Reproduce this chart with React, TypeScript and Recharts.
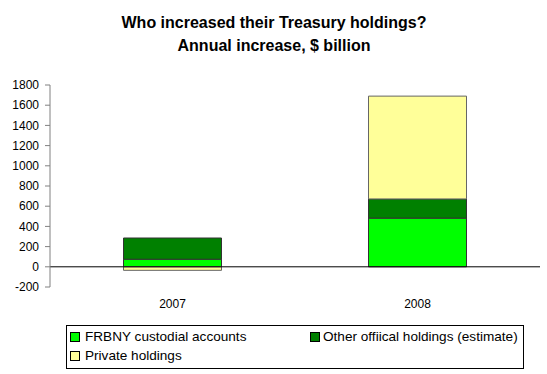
import React from "react";
import { BarChart, Bar, XAxis, YAxis, ReferenceLine } from "recharts";

const categories = ["2007", "2008"];
const frbny = [75, 482];
const otherOfficial = [210, 190];
const privateHoldings = [-35, 1018];
const yTicks = [-200, 0, 200, 400, 600, 800, 1000, 1200, 1400, 1600, 1800];

const data = categories.map((c, i) => ({
  year: c,
  frbny: frbny[i],
  other: otherOfficial[i],
  priv: privateHoldings[i],
}));

const font = "Arial, 'Liberation Sans', sans-serif";

const itemStyle: React.CSSProperties = {
  position: "absolute",
  display: "flex",
  alignItems: "center",
  whiteSpace: "nowrap",
};

export default function App() {
  return (
    <div style={{ position: "absolute", left: 0, top: 0, width: 547, height: 374, background: "#fff", fontFamily: font }}>
      <div style={{ position: "absolute", left: 0, top: 11, width: 548, textAlign: "center", fontWeight: "bold", fontSize: 16, lineHeight: "23px", color: "#000" }}>
        Who increased their Treasury holdings?
        <br />
        Annual increase, $ billion
      </div>
      <BarChart
        width={547}
        height={374}
        data={data}
        stackOffset="sign"
        margin={{ top: 85, right: 7, bottom: 0, left: 0 }}
        barCategoryGap="30%"
      >
        <YAxis
          width={50}
          domain={[-200, 1800]}
          ticks={yTicks}
          interval={0}
          axisLine={{ stroke: "#808080" }}
          tickLine={{ stroke: "#808080" }}
          tickSize={5}
          tickMargin={6}
          tick={{ fill: "#000", fontSize: 12, fontFamily: font }}
        />
        <XAxis
          dataKey="year"
          height={87}
          axisLine={false}
          tickLine={false}
          tick={{ fill: "#000", fontSize: 12, fontFamily: font, dy: 4 }}
        />
        <ReferenceLine y={0} stroke="#000" />
        <Bar dataKey="frbny" stackId="a" fill="#00FF00" stroke="#333" strokeWidth={1} isAnimationActive={false} />
        <Bar dataKey="other" stackId="a" fill="#008000" stroke="#333" strokeWidth={1} isAnimationActive={false} />
        <Bar dataKey="priv" stackId="a" fill="#FFFF99" stroke="#666" strokeWidth={1} isAnimationActive={false} />
      </BarChart>
      <div style={{ position: "absolute", left: 66, top: 325, width: 458, height: 44, border: "1px solid #000", boxSizing: "border-box", fontSize: 13.6, color: "#000" }}>
        <div style={{ ...itemStyle, left: 3, top: 3 }}>
          <span style={{ width: 8, height: 8, background: "#00FF00", border: "1px solid #000", marginRight: 5 }} />
          FRBNY custodial accounts
        </div>
        <div style={{ ...itemStyle, left: 243, top: 3 }}>
          <span style={{ width: 8, height: 8, background: "#008000", border: "1px solid #000", marginRight: 3 }} />
          Other offiical holdings (estimate)
        </div>
        <div style={{ ...itemStyle, left: 3, top: 22 }}>
          <span style={{ width: 8, height: 8, background: "#FFFF99", border: "1px solid #000", marginRight: 5 }} />
          Private holdings
        </div>
      </div>
    </div>
  );
}
